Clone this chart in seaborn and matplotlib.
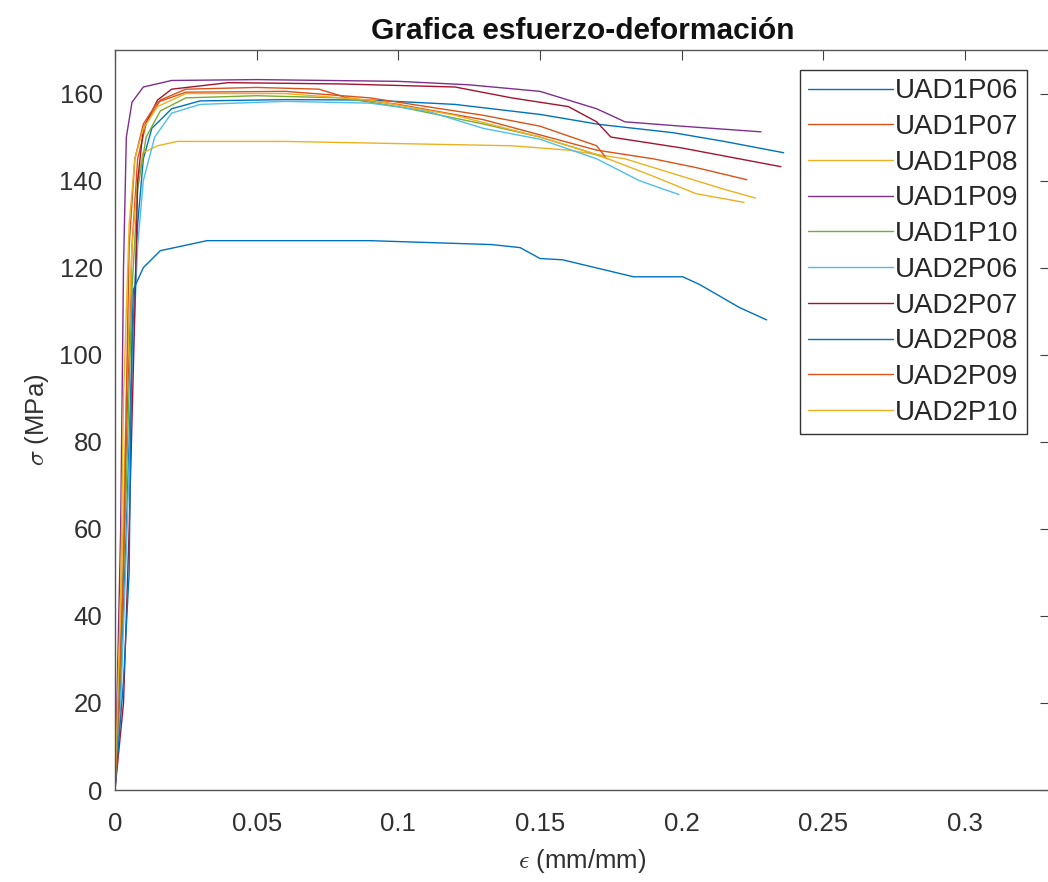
import pandas as pd
import numpy as np
import matplotlib
matplotlib.use('Agg')
import matplotlib.pyplot as plt
import seaborn as sns

# strain (mm/mm) / stress (MPa) curves
UAD1P06_eps = [0, 0.002, 0.004, 0.006, 0.008, 0.010, 0.013, 0.02, 0.03, 0.06, 0.09, 0.12, 0.15, 0.171, 0.197, 0.215, 0.236]
UAD1P06_sig = [0, 25, 60, 100, 130, 145, 152, 156.5, 158.3, 158.6, 158.5, 157.5, 155.2, 152.9, 151, 149, 146.4]

UAD1P07_eps = [0, 0.002, 0.004, 0.006, 0.008, 0.011, 0.016, 0.025, 0.05, 0.072, 0.082, 0.10, 0.13, 0.15, 0.17, 0.19, 0.205, 0.223]
UAD1P07_sig = [0, 30, 80, 125, 145, 153, 158.5, 161, 161.4, 161, 159, 157.5, 154, 150.5, 147, 145, 143, 140.2]

UAD1P08_eps = [0, 0.002, 0.004, 0.006, 0.008, 0.0099, 0.015, 0.022, 0.06, 0.10, 0.14, 0.16, 0.18, 0.20, 0.215, 0.226]
UAD1P08_sig = [0, 40, 90, 125, 140, 146.4, 148, 149, 149, 148.5, 148, 147, 145, 141, 138, 136]

UAD1P09_eps = [0, 0.002, 0.003, 0.004, 0.006, 0.010, 0.02, 0.05, 0.10, 0.125, 0.15, 0.17, 0.18, 0.20, 0.228]
UAD1P09_sig = [0, 60, 120, 150, 158, 161.5, 163, 163.2, 162.8, 162, 160.5, 156.5, 153.5, 152.5, 151.2]

UAD1P10_eps = [0, 0.002, 0.004, 0.006, 0.008, 0.011, 0.016, 0.025, 0.05, 0.08, 0.10, 0.13, 0.15, 0.165, 0.174]
UAD1P10_sig = [0, 30, 70, 115, 138, 150, 156, 159, 159.5, 159, 157, 153, 150, 147, 145]

UAD2P06_eps = [0, 0.002, 0.004, 0.006, 0.008, 0.010, 0.014, 0.02, 0.03, 0.06, 0.09, 0.11, 0.13, 0.15, 0.17, 0.185, 0.199]
UAD2P06_sig = [0, 20, 55, 95, 125, 140, 150, 155.5, 157.5, 158.2, 157.8, 156, 152, 149.5, 145, 140, 136.8]

UAD2P07_eps = [0, 0.003, 0.005, 0.007, 0.008, 0.010, 0.015, 0.02, 0.04, 0.08, 0.12, 0.14, 0.16, 0.17, 0.175, 0.20, 0.235]
UAD2P07_sig = [0, 20, 60, 110, 140, 152, 158.5, 161, 162.5, 162.2, 161.5, 159, 157, 153.5, 150, 147.5, 143.2]

UAD2P08_eps = [0, 0.003, 0.005, 0.0055, 0.006, 0.0065, 0.010, 0.016, 0.0325, 0.09, 0.133, 0.143, 0.150, 0.158, 0.183, 0.2004, 0.2064, 0.2205, 0.230]
UAD2P08_sig = [0, 25, 50, 80, 105, 115, 120, 123.9, 126.2, 126.2, 125.3, 124.6, 122.1, 121.8, 117.9, 117.9, 116.1, 110.8, 108.0]

UAD2P09_eps = [0, 0.001, 0.003, 0.004, 0.005, 0.007, 0.010, 0.015, 0.025, 0.06, 0.09, 0.11, 0.13, 0.15, 0.17, 0.173]
UAD2P09_sig = [0, 15, 50, 90, 125, 145, 153, 158, 160.3, 160.5, 159, 157, 155, 152.5, 148, 145.5]

UAD2P10_eps = [0, 0.002, 0.003, 0.005, 0.007, 0.010, 0.015, 0.025, 0.06, 0.09, 0.12, 0.15, 0.17, 0.19, 0.205, 0.222]
UAD2P10_sig = [0, 45, 90, 130, 145, 152, 157, 160, 160, 158.5, 155, 150, 146, 141, 137, 135]

specimens = ['UAD1P06', 'UAD1P07', 'UAD1P08', 'UAD1P09', 'UAD1P10',
             'UAD2P06', 'UAD2P07', 'UAD2P08', 'UAD2P09', 'UAD2P10']
curves = [(UAD1P06_eps, UAD1P06_sig), (UAD1P07_eps, UAD1P07_sig), (UAD1P08_eps, UAD1P08_sig),
          (UAD1P09_eps, UAD1P09_sig), (UAD1P10_eps, UAD1P10_sig), (UAD2P06_eps, UAD2P06_sig),
          (UAD2P07_eps, UAD2P07_sig), (UAD2P08_eps, UAD2P08_sig), (UAD2P09_eps, UAD2P09_sig),
          (UAD2P10_eps, UAD2P10_sig)]

# MATLAB default colour order
matlab_colors = ['#0072BD', '#D95319', '#EDB120', '#7E2F8E', '#77AC30',
                 '#4DBEEE', '#A2142F', '#0072BD', '#D95319', '#EDB120']

frames = []
for name, (e, s) in zip(specimens, curves):
    frames.append(pd.DataFrame({'eps': e, 'sigma': s, 'specimen': name}))
df = pd.concat(frames, ignore_index=True)

sns.set_style('white')
plt.rcParams['font.family'] = ['Liberation Sans', 'DejaVu Sans']
plt.rcParams['mathtext.fontset'] = 'cm'

fig = plt.figure(figsize=(10.48, 8.82), dpi=100)
ax = fig.add_axes([115 / 1048, 1 - 790 / 882, 935 / 1048, 740 / 882])

sns.lineplot(data=df, x='eps', y='sigma', hue='specimen', hue_order=specimens,
             palette=dict(zip(specimens, matlab_colors)), sort=False, estimator=None,
             linewidth=1.0, ax=ax)

ax.set_xlim(0, 0.33)
ax.set_ylim(0, 170)
ax.set_xticks([0, 0.05, 0.1, 0.15, 0.2, 0.25, 0.3])
ax.set_xticklabels(['0', '0.05', '0.1', '0.15', '0.2', '0.25', '0.3'])
ax.set_yticks(np.arange(0, 161, 20))
ax.tick_params(direction='in', length=7, width=0.8, colors='#404040',
               labelcolor='#303030', labelsize=18.5, top=True, right=True)
ax.tick_params(axis='x', pad=16)
ax.tick_params(axis='y', pad=9)
for sp in ax.spines.values():
    sp.set_color('#555555')
    sp.set_linewidth(1.0)

ax.set_title('Grafica esfuerzo-deformación', fontsize=21.5, fontweight='bold', color='#111111', pad=8)
ax.set_xlabel(r'$\epsilon$ (mm/mm)', fontsize=18.5, color='#303030', labelpad=8)
ax.set_ylabel(r'$\sigma$ (MPa)', fontsize=18.5, color='#303030', labelpad=6)

leg = ax.legend(loc='upper right', bbox_to_anchor=(0.975, 0.973), borderaxespad=0,
                fontsize=20, frameon=True, fancybox=False, framealpha=1,
                edgecolor='#333333', handlelength=3.05, handletextpad=0.06,
                labelspacing=0.35, borderpad=0.3)
leg.get_frame().set_linewidth(1.0)

fig.savefig('out.png', dpi=100)
